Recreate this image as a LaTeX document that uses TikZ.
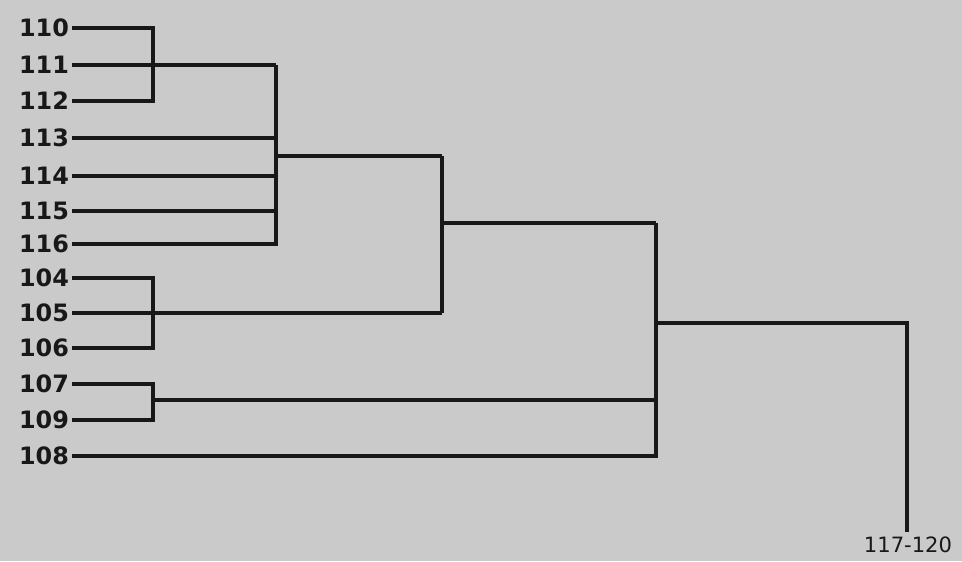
\documentclass[tikz,border=0pt]{standalone}
\usepackage{fontspec}
\setmainfont{DejaVu Sans}
\definecolor{paper}{RGB}{202,202,202}
\definecolor{ink}{RGB}{24,24,24}
\tikzset{
  leaf/.style={anchor=east,inner sep=2pt,text=ink,font=\fontsize{17}{17}\selectfont\bfseries},
  link/.style={draw=ink,line width=2.4pt,line join=miter}
}
\begin{document}
\begin{tikzpicture}[x=0.025cm,y=-0.025cm]
            \fill[paper] (0,0) rectangle (962,561);
            \useasboundingbox (0,0) rectangle (962,561);
            \node[leaf] (l110) at (72,28) {110};
            \node[leaf] (l111) at (72,65) {111};
            \node[leaf] (l112) at (72,101) {112};
            \node[leaf] (l113) at (72,138) {113};
            \node[leaf] (l114) at (72,176) {114};
            \node[leaf] (l115) at (72,211) {115};
            \node[leaf] (l116) at (72,244) {116};
            \node[leaf] (l104) at (72,278) {104};
            \node[leaf] (l105) at (72,313) {105};
            \node[leaf] (l106) at (72,348) {106};
            \node[leaf] (l107) at (72,384) {107};
            \node[leaf] (l109) at (72,420) {109};
            \node[leaf] (l108) at (72,456) {108};
            \coordinate (j1) at (153,65);
            \coordinate (j2) at (276,156);
            \coordinate (j3) at (153,313);
            \coordinate (j4) at (442,223);
            \coordinate (j5) at (153,400);
            \coordinate (j6) at (656,323);
            \coordinate (root) at (907,323);
            \node[text=ink,font=\fontsize{15}{15}\selectfont,anchor=north] (top) at (908,532) {117-120};
            \draw[link] (l110.east) -- (l110.east -| j1) -- (l112.east -| j1) -- (l112.east);
            \draw[link] (l111.east) -- (j1) -- (j1 -| j2);
            \draw[link] (l113.east) -- (l113.east -| j2);
            \draw[link] (l114.east) -- (l114.east -| j2);
            \draw[link] (l115.east) -- (l115.east -| j2);
            \draw[link] (j1 -| j2) -- (l116.east -| j2) -- (l116.east);
            \draw[link] (j2) -- (j2 -| j4);
            \draw[link] (l104.east) -- (l104.east -| j3) -- (l106.east -| j3) -- (l106.east);
            \draw[link] (l105.east) -- (j3) -- (j3 -| j4);
            \draw[link] (j2 -| j4) -- (j3 -| j4);
            \draw[link] (j4) -- (j4 -| j6);
            \draw[link] (l107.east) -- (l107.east -| j5) -- (l109.east -| j5) -- (l109.east);
            \draw[link] (j5) -- (j5 -| j6);
            \draw[link] (j4 -| j6) -- (l108.east -| j6) -- (l108.east);
            \draw[link] (j6) -- (root) -- (root |- top.north);
\end{tikzpicture}
\end{document}
